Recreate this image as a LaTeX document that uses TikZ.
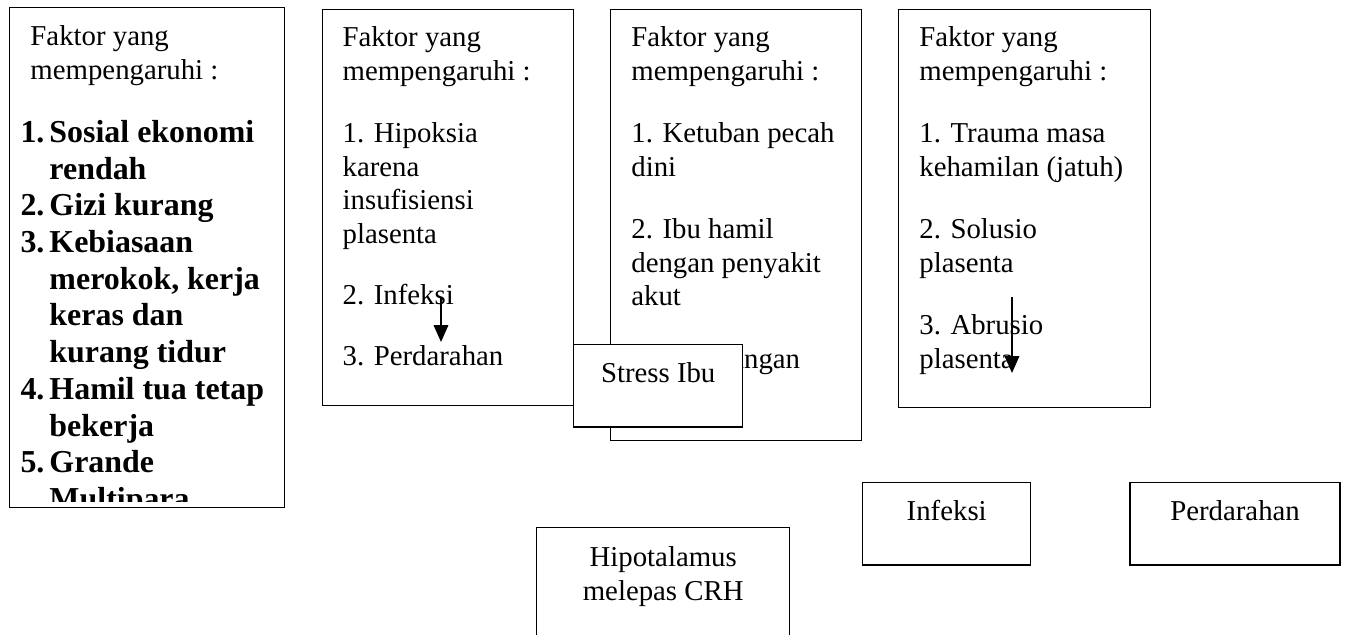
\documentclass[tikz,border=0pt]{standalone}
\usepackage{fontspec}
\setmainfont{Liberation Serif}
\usetikzlibrary{positioning,arrows.meta}
\tikzset{
  box/.style={draw, line width=0.6pt, fill=white, anchor=north west, inner sep=0pt},
  txt/.style={anchor=north west, inner sep=0pt, align=left, font=\fontsize{12}{14}\selectfont},
  ttl/.style={anchor=north, inner sep=0pt, align=center, font=\fontsize{12}{14}\selectfont},
  lst/.style={anchor=north west, inner sep=0pt, font=\fontsize{13.3}{15.3}\selectfont\bfseries},
  arrow/.style={-{Triangle[length=7pt,width=6pt]}, line width=0.75pt}
}

\begin{document}
\begin{tikzpicture}[x=0.41667pt, y=-0.41667pt]
    \useasboundingbox (0,0) rectangle (1350,635);
    \clip (0,0) rectangle (1350,635);
    % first box, bold list cut at the bottom
    \node[box, minimum width=114.6pt, minimum height=208.3pt] (b1) at (9,7) {};
    \node[txt, below right=6pt and 8.75pt of b1.north west] (b1head) {\strut Faktor yang\\mempengaruhi :};
    \begin{scope}
      \clip (b1.north west) rectangle ([yshift=3pt]b1.south east);
      \node[lst, below right=45.5pt and 4.6pt of b1.north west] (b1list) {%
        \begin{tabular}{@{}l@{\hspace{2.1pt}}l@{}}
          1. & Sosial ekonomi\\
             & rendah\\
          2. & Gizi kurang\\
          3. & Kebiasaan\\
             & merokok, kerja\\
             & keras dan\\
             & kurang tidur\\
          4. & Hamil tua tetap\\
             & bekerja\\
          5. & Grande\\
             & Multipara
        \end{tabular}};
    \end{scope}

    \node[box, minimum width=104.6pt, minimum height=165pt] (b2) at (322,9) {};
    \node[txt, below right=5.6pt and 8.4pt of b2.north west] (b2t) {\strut Faktor yang\\mempengaruhi :\\[12pt]1. Hipoksia\\karena\\insufisiensi\\plasenta\\[11.5pt]2. Infeksi\\[11.5pt]3. Perdarahan};

    \node[box, minimum width=104.6pt, minimum height=179.6pt] (b3) at (610,9) {};
    \node[txt, below right=5.6pt and 8.7pt of b3.north west] (b3t) {\strut Faktor yang\\mempengaruhi :\\[12pt]1. Ketuban pecah\\dini\\[12pt]2. Ibu hamil\\dengan penyakit\\akut\\[12pt]3. Ketegangan};

    \node[box, minimum width=105pt, minimum height=165.8pt] (b4) at (898,9) {};
    \node[txt, below right=5.6pt and 8.7pt of b4.north west] (b4t) {\strut Faktor yang\\mempengaruhi :\\[12pt]1. Trauma masa\\kehamilan (jatuh)\\[12pt]2. Solusio\\plasenta\\[12pt]3. Abrusio\\plasenta};

    % loose arrows
    \coordinate (a2top) at (441,297);
    \coordinate (a2tip) at (441,342);
    \coordinate (a4top) at (1012,297);
    \coordinate (a4tip) at (1012,373);
    \draw[arrow] (a2top) -- (a2tip);
    \draw[arrow] (a4top) -- (a4tip);

    \node[box, minimum width=70.4pt, minimum height=34.2pt] (stress) at (573,344) {};
    \node[ttl, below=6pt of stress.north] (stresst) {\strut Stress Ibu};

    \node[box, minimum width=105.4pt, minimum height=54pt] (hipo) at (536,527) {};
    \node[ttl, below=6.5pt of hipo.north] (hipot) {\strut Hipotalamus\\melepas CRH};

    \node[box, minimum width=70pt, minimum height=34.2pt] (inf) at (862,482) {};
    \node[ttl, below=6pt of inf.north] (inft) {\strut Infeksi};
    \node[box, minimum width=87.5pt, minimum height=34.2pt, right=40.8pt of inf] (perd) {};
    \node[ttl, below=6pt of perd.north] (perdt) {\strut Perdarahan};
\end{tikzpicture}
\end{document}
